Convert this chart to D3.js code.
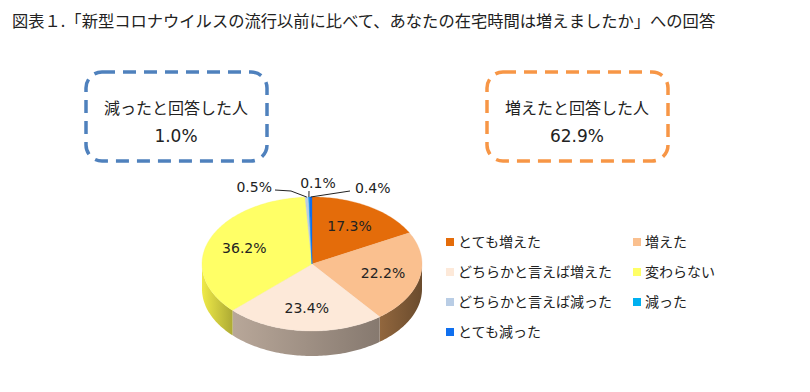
<!DOCTYPE html>
<html>
<head>
<meta charset="utf-8">
<script src="https://cdn.jsdelivr.net/npm/d3@7"></script>
<style>
  body { margin: 0; background: #fff; }
  text { font-family: "Noto Sans CJK JP", "Noto Sans", sans-serif; fill: #222; }
  text.num { font-family: "DejaVu Sans", sans-serif; }
</style>
</head>
<body>
<script>
'use strict'

let categories = ['とても増えた', '増えた', 'どちらかと言えば増えた', '変わらない', 'どちらかと言えば減った', '減った', 'とても減った']
let values = [17.3, 22.2, 23.4, 36.2, 0.5, 0.1, 0.4]
let colors = ['#e46c0a', '#fac08f', '#fde9d9', '#ffff66', '#b9cde5', '#00b0f0', '#0f6fef']
let sideColors = ['#8a4a10', '#7a5634', '#9a8c80', '#c8c43c', '#8090a0', '#0080b0', '#0a4fa8']
let boxes = [
  { label: '減ったと回答した人', value: '1.0%', color: '#4f81bd' },
  { label: '増えたと回答した人', value: '62.9%', color: '#f79646' }
]
let title = '図表１.「新型コロナウイルスの流行以前に比べて、あなたの在宅時間は増えましたか」への回答'

let width = 810,
    height = 392

let svg = d3.select('body').append('svg')
    .attr('width', width)
    .attr('height', height)

svg.append('text')
    .attr('x', 12)
    .attr('y', 27)
    .style('font-size', '16.3px')
    .text(title)

// summary boxes
let boxX = d3.scaleOrdinal().domain([0, 1]).range([86, 487])
boxes.forEach((b, i) => {
    let g = svg.append('g').attr('transform', 'translate(' + boxX(i) + ',72)')
    g.append('rect')
        .attr('width', 181)
        .attr('height', 89)
        .attr('rx', 16)
        .attr('fill', 'none')
        .attr('stroke', b.color)
        .attr('stroke-width', 3.5)
        .attr('stroke-dasharray', '13,8')
    g.append('text')
        .attr('x', 90)
        .attr('y', 42)
        .attr('text-anchor', 'middle')
        .style('font-size', '16px')
        .text(b.label)
    g.append('text')
        .attr('class', 'num')
        .attr('x', 90)
        .attr('y', 70)
        .attr('text-anchor', 'middle')
        .style('font-size', '17px')
        .text(b.value)
})

// 3D pie
let cx = 312, cy = 264, rx = 110, ry = 67, depth = 25

let pie = d3.pie().sort(null).value(d => d)
let arcs = pie(values)

let px = a => cx + rx * Math.sin(a)
let py = a => cy - ry * Math.cos(a)

function topPath(d) {
    let n = Math.max(2, Math.ceil((d.endAngle - d.startAngle) / 0.02))
    let pts = d3.range(n + 1).map(k => {
        let a = d.startAngle + (d.endAngle - d.startAngle) * k / n
        return [px(a), py(a)]
    })
    return 'M' + cx + ',' + cy + 'L' + pts.map(p => p.join(',')).join('L') + 'Z'
}

function sidePath(d) {
    let s = Math.max(d.startAngle, Math.PI / 2),
        e = Math.min(d.endAngle, Math.PI * 1.5)
    if (e <= s) return null
    let n = Math.max(2, Math.ceil((e - s) / 0.02))
    let top = d3.range(n + 1).map(k => {
        let a = s + (e - s) * k / n
        return [px(a), py(a)]
    })
    let bottom = top.slice().reverse().map(p => [p[0], p[1] + depth])
    return 'M' + top.concat(bottom).map(p => p.join(',')).join('L') + 'Z'
}

let defs = svg.append('defs')
arcs.forEach((d, i) => {
    let grad = defs.append('linearGradient')
        .attr('id', 'side' + i)
        .attr('x1', '0%').attr('x2', '100%')
    grad.append('stop').attr('offset', '0%').attr('stop-color', d3.color(sideColors[i]).brighter(0.5))
    grad.append('stop').attr('offset', '100%').attr('stop-color', d3.color(sideColors[i]).darker(0.4))
})

svg.append('g').selectAll('path')
    .data(arcs.filter(d => sidePath(d)))
    .enter().append('path')
    .attr('d', sidePath)
    .attr('fill', d => 'url(#side' + d.index + ')')

svg.append('g').selectAll('path')
    .data(arcs)
    .enter().append('path')
    .attr('d', topPath)
    .attr('fill', (d, i) => colors[i])
    .attr('stroke', (d, i) => d3.color(colors[i]).darker(0.1))
    .attr('stroke-width', 0.3)

// labels for big slices
let labelFactor = 0.66
svg.append('g').selectAll('text')
    .data(arcs.filter(d => d.value > 5))
    .enter().append('text')
    .attr('class', 'num')
    .attr('x', d => cx + labelFactor * rx * Math.sin((d.startAngle + d.endAngle) / 2))
    .attr('y', d => cy - labelFactor * ry * Math.cos((d.startAngle + d.endAngle) / 2) + 5)
    .attr('text-anchor', 'middle')
    .style('font-size', '14px')
    .text(d => d.value.toFixed(1) + '%')

// callouts for the tiny slices
let callout = [
    { tx: 272, ty: 192, anchor: 'end', elbow: [[275, 190], [291, 191]] },
    { tx: 318, ty: 188, anchor: 'middle', elbow: [[309, 191]] },
    { tx: 355, ty: 193, anchor: 'start', elbow: [[350, 191]] }
]
let small = arcs.filter(d => d.value < 5)
small.forEach((d, k) => {
    let c = callout[k]
    let a = (d.startAngle + d.endAngle) / 2
    let pts = c.elbow.concat([[px(a), py(a)]])
    svg.append('path')
        .attr('d', 'M' + pts.map(p => p.join(',')).join('L'))
        .attr('fill', 'none')
        .attr('stroke', '#222')
        .attr('stroke-width', 1)
    svg.append('text')
        .attr('class', 'num')
        .attr('x', c.tx)
        .attr('y', c.ty)
        .attr('text-anchor', c.anchor)
        .style('font-size', '14px')
        .text(d.value.toFixed(1) + '%')
})

// legend
let legX = d3.scaleOrdinal().domain([0, 1]).range([446, 633])
let legY = d3.scaleLinear().domain([0, 3]).range([242, 332])
let legend = svg.append('g').selectAll('g')
    .data(categories)
    .enter().append('g')
    .attr('transform', (d, i) => 'translate(' + legX(i % 2) + ',' + legY(Math.floor(i / 2)) + ')')
legend.append('rect')
    .attr('x', 0)
    .attr('y', -4)
    .attr('width', 8)
    .attr('height', 8)
    .attr('fill', (d, i) => colors[i])
legend.append('text')
    .attr('x', 12)
    .attr('y', 5)
    .style('font-size', '14px')
    .text(d => d)
</script>
</body>
</html>
